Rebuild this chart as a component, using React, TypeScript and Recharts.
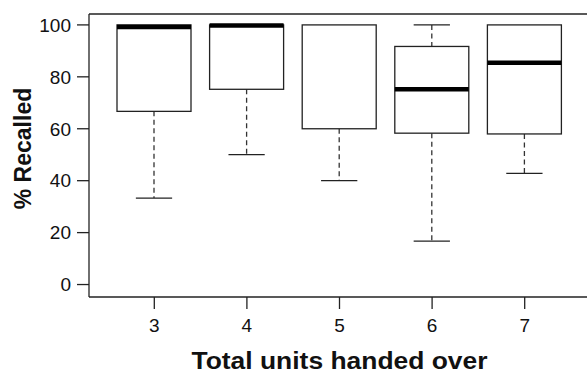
import { ComposedChart, Bar, XAxis, YAxis, ReferenceLine } from 'recharts';

const categories = ['3', '4', '5', '6', '7'];
const whiskerLow = [33.3, 50, 40, 16.7, 42.8];
const lowerHinge = [66.7, 75.2, 60, 58.3, 58];
const medians: (number | null)[] = [99.2, 99.8, null, 75.2, 85.4];
const upperHinge = [100, 100, 100, 91.7, 100];
const whiskerHigh = [100, 100, 100, 100, 100];
const yTicks = [0, 20, 40, 60, 80, 100];

const data = categories.map((cat, i) => ({
  cat,
  low: whiskerLow[i],
  q1: lowerHinge[i],
  median: medians[i],
  q3: upperHinge[i],
  high: whiskerHigh[i],
}));

const FONT = '"Liberation Sans", Arial, sans-serif';
const LINE = '#222';

const BoxShape = (props: any) => {
  const { x, y, width, height, payload } = props;
  const { low, q1, median, q3, high } = payload;
  const top = Math.min(y, y + height);
  const h = Math.abs(height);
  const py = (v: number) => top + (h * (high - v)) / (high - low);
  const cx = x + width / 2;
  const cap = width * 0.49;
  return (
    <g>
      {/* lower whisker */}
      <line x1={cx} x2={cx} y1={py(q1)} y2={py(low)} stroke="#333" strokeWidth={1.3} strokeDasharray="5 3.5" />
      <line x1={cx - cap / 2} x2={cx + cap / 2} y1={py(low)} y2={py(low)} stroke={LINE} strokeWidth={1.3} />
      {/* upper whisker */}
      {high > q3 && (
        <>
          <line x1={cx} x2={cx} y1={py(high)} y2={py(q3)} stroke="#333" strokeWidth={1.3} strokeDasharray="5 3.5" />
          <line x1={cx - cap / 2} x2={cx + cap / 2} y1={py(high)} y2={py(high)} stroke={LINE} strokeWidth={1.3} />
        </>
      )}
      <rect x={x} y={py(q3)} width={width} height={py(q1) - py(q3)} fill="#fff" stroke={LINE} strokeWidth={1.3} />
      {median != null && (
        <line x1={x} x2={x + width} y1={py(median)} y2={py(median)} stroke="#000" strokeWidth={4.5} />
      )}
    </g>
  );
};

export default function App() {
  return (
    <div style={{ position: 'absolute', left: 0, top: 0, width: 587, height: 375, overflow: 'hidden', background: '#fff' }}>
      <ComposedChart width={600} height={375} data={data} margin={{ top: 14, right: 10, left: 0, bottom: 0 }}>
        <XAxis
          dataKey="cat"
          type="category"
          padding={{ left: 19, right: 19 }}
          height={78}
          tickSize={12}
          tickMargin={10}
          stroke={LINE}
          strokeWidth={1.3}
          tick={{ fill: '#111', fontSize: 19, fontFamily: FONT }}
          label={{
            content: ({ viewBox }: any) => (
              <text
                x={viewBox.x + viewBox.width / 2}
                y={viewBox.y + 72}
                textAnchor="middle"
                fontFamily={FONT}
                fontWeight="bold"
                fontSize={23}
                textLength={296}
                lengthAdjust="spacingAndGlyphs"
                fill="#111"
              >
                Total units handed over
              </text>
            ),
          }}
        />
        <YAxis
          type="number"
          domain={[-4.8, 104.2]}
          ticks={yTicks}
          allowDataOverflow
          width={89}
          tickSize={12}
          tickMargin={6}
          stroke={LINE}
          strokeWidth={1.3}
          tick={{ fill: '#111', fontSize: 19, fontFamily: FONT }}
          label={{
            content: ({ viewBox }: any) => {
              const lx = viewBox.x + 31;
              const ly = viewBox.y + viewBox.height / 2 - 7;
              return (
                <text
                  x={lx}
                  y={ly}
                  transform={`rotate(-90 ${lx} ${ly})`}
                  textAnchor="middle"
                  fontFamily={FONT}
                  fontWeight="bold"
                  fontSize={23}
                  fill="#111"
                >
                  % Recalled
                </text>
              );
            },
          }}
        />
        <ReferenceLine y={104.2} stroke={LINE} strokeWidth={1.3} ifOverflow="visible" />
        <Bar
          dataKey={(d: any) => [d.low, d.high]}
          barSize={74}
          shape={BoxShape}
          isAnimationActive={false}
        />
      </ComposedChart>
    </div>
  );
}
